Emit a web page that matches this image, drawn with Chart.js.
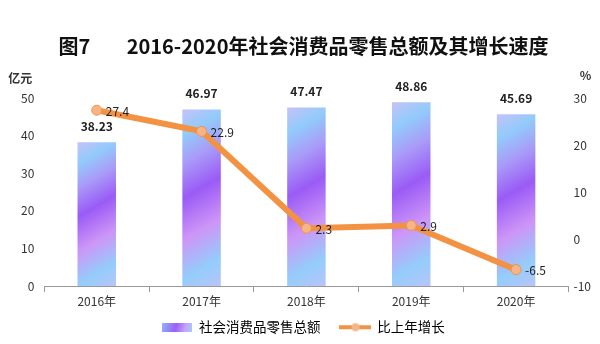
<!DOCTYPE html>
<html>
<head>
<meta charset="utf-8">
<script src="https://cdn.jsdelivr.net/npm/chart.js@4.4.1/dist/chart.umd.min.js"></script>
<style>
  body { margin: 0; background: #fff; }
  #wrap { width: 600px; height: 344px; }
</style>
</head>
<body>
<div id="wrap"><canvas id="salesChart" width="600" height="344"></canvas></div>
<script>
// Data
const years = ['2016年', '2017年', '2018年', '2019年', '2020年'];
const retailSales = [38.23, 46.97, 47.47, 48.86, 45.69];   // 亿元
const growthRate = [27.4, 22.9, 2.3, 2.9, -6.5];             // %
const leftTicks = [0, 10, 20, 30, 40, 50];
const rightTicks = [-10, 0, 10, 20, 30];

const FONT = "'Noto Sans CJK SC', 'Noto Sans', sans-serif";
const ORANGE = '#f39243';

// gradient stops used for every bar
function addBarStops(g) {
    g.addColorStop(0, '#c6c2f8');
    g.addColorStop(0.13, '#92cbfb');
    g.addColorStop(0.28, '#a99af8');
    g.addColorStop(0.45, '#9a5bf6');
    g.addColorStop(0.66, '#cd95f7');
    g.addColorStop(0.86, '#94cdfb');
    g.addColorStop(1, '#b9c4f9');
}

function barGradient(context) {
    const chart = context.chart;
    if (!chart.chartArea || context.type !== 'data') return '#9b6cf6';
    const xs = chart.scales.x, ys = chart.scales.y;
    const cx = xs.getPixelForValue(context.dataIndex);
    const top = ys.getPixelForValue(context.raw);
    const bottom = ys.getPixelForValue(0);
    const w = 38, h = bottom - top;
    const sa = 0.5, ca = 0.866;
    const len = w * sa + h * ca;
    const x0 = cx - w / 2;
    const g = chart.ctx.createLinearGradient(x0, top, x0 + sa * len, top + ca * len);
    addBarStops(g);
    return g;
}

// legend swatches
const barSwatch = document.createElement('canvas');
barSwatch.width = 30; barSwatch.height = 9;
(function () {
    const c = barSwatch.getContext('2d');
    const g = c.createLinearGradient(0, 0, 30, 9);
    g.addColorStop(0, '#8fb6fa');
    g.addColorStop(0.45, '#9b5ff6');
    g.addColorStop(0.75, '#c7a3f8');
    g.addColorStop(1, '#9fd0fb');
    c.fillStyle = g;
    c.fillRect(0, 0, 30, 9);
})();

const lineSwatch = document.createElement('canvas');
lineSwatch.width = 32; lineSwatch.height = 10;
(function () {
    const c = lineSwatch.getContext('2d');
    c.strokeStyle = ORANGE;
    c.lineWidth = 4;
    c.beginPath(); c.moveTo(0, 5); c.lineTo(32, 5); c.stroke();
    c.fillStyle = '#f5b589';
    c.beginPath(); c.arc(16, 5, 4, 0, Math.PI * 2); c.fill();
})();

// value labels + unit labels
const labelPlugin = {
    id: 'valueLabels',
    afterInit(chart) {
        // nudge the legend up a little (keeps wide item spacing)
        const lg = chart.legend;
        if (lg) {
            const draw = lg.draw;
            lg.draw = function () {
                this.ctx.save();
                this.ctx.translate(0, -10);
                draw.apply(this, arguments);
                this.ctx.restore();
            };
        }
    },
    afterDatasetsDraw(chart) {
        const ctx = chart.ctx;
        const area = chart.chartArea;
        ctx.save();
        ctx.fillStyle = '#222';
        ctx.textAlign = 'center';
        ctx.textBaseline = 'middle';
        ctx.font = 'bold 12px ' + FONT;
        chart.getDatasetMeta(0).data.forEach((el, i) => {
            ctx.fillText(retailSales[i].toFixed(2), el.x, el.y - 16);
        });
        ctx.font = '12px ' + FONT;
        ctx.textAlign = 'left';
        chart.getDatasetMeta(1).data.forEach((el, i) => {
            ctx.fillText(growthRate[i].toFixed(1), el.x + 9, el.y + 1);
        });
        ctx.font = 'bold 12px ' + FONT;
        ctx.textAlign = 'center';
        ctx.fillStyle = '#333';
        ctx.fillText('亿元', area.left - 24, area.top - 20);
        ctx.fillText('%', area.right + 17, area.top - 23);
        ctx.restore();
    }
};

new Chart(document.getElementById('salesChart'), {
    data: {
        labels: years,
        datasets: [
            {
                type: 'bar',
                label: '社会消费品零售总额',
                data: retailSales,
                yAxisID: 'y',
                backgroundColor: barGradient,
                barPercentage: 0.367,
                categoryPercentage: 1,
                order: 1
            },
            {
                type: 'line',
                label: '比上年增长',
                data: growthRate,
                yAxisID: 'y1',
                borderColor: ORANGE,
                borderWidth: 6,
                pointRadius: 5,
                pointBackgroundColor: '#f5b589',
                pointBorderColor: ORANGE,
                pointBorderWidth: 1,
                tension: 0,
                order: 0
            }
        ]
    },
    options: {
        responsive: false,
        animation: false,
        layout: { padding: { left: 11, right: 4, bottom: -10 } },
        plugins: {
            title: {
                display: true,
                text: '图7        2016-2020年社会消费品零售总额及其增长速度',
                font: { family: FONT, size: 20, weight: 'bold' },
                color: '#111',
                padding: { top: 34, bottom: 40 }
            },
            legend: {
                position: 'bottom',
                labels: {
                    usePointStyle: true,
                    pointStyleWidth: 30,
                    padding: 20,
                    color: '#333',
                    font: { family: FONT, size: 13.5 },
                    generateLabels: () => [
                        { text: '社会消费品零售总额', pointStyle: barSwatch, fillStyle: '#9b6cf6', strokeStyle: 'transparent', lineWidth: 0, datasetIndex: 0, hidden: false },
                        { text: '比上年增长', pointStyle: lineSwatch, fillStyle: ORANGE, strokeStyle: 'transparent', lineWidth: 0, datasetIndex: 1, hidden: false }
                    ]
                }
            },
            tooltip: { enabled: false }
        },
        scales: {
            x: {
                offset: true,
                grid: { display: true, drawOnChartArea: false, tickLength: 6, color: '#9a9a9a', offset: true },
                border: { color: '#9a9a9a' },
                ticks: { color: '#333', font: { family: FONT, size: 12 }, padding: 2 }
            },
            y: {
                position: 'left',
                min: 0,
                max: 50,
                afterBuildTicks: axis => { axis.ticks = leftTicks.map(v => ({ value: v })); },
                grid: { display: false, drawTicks: false },
                border: { display: false },
                ticks: { color: '#333', font: { family: FONT, size: 12 }, padding: 10 }
            },
            y1: {
                position: 'right',
                min: -10,
                max: 30,
                afterBuildTicks: axis => { axis.ticks = rightTicks.map(v => ({ value: v })); },
                grid: { display: false, drawTicks: false },
                border: { display: false },
                ticks: { color: '#333', font: { family: FONT, size: 12 }, padding: 5 }
            }
        }
    },
    plugins: [labelPlugin]
});
</script>
</body>
</html>
